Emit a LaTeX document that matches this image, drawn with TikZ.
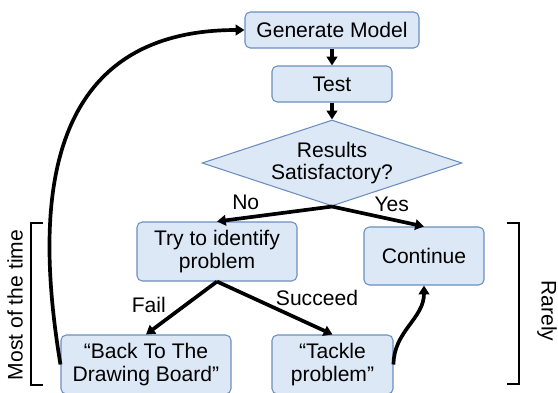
\documentclass[tikz,border=0pt]{standalone}
\usepackage{fontspec}
\setmainfont{Liberation Sans}
\usetikzlibrary{arrows.meta, shapes.geometric}
\definecolor{boxfill}{RGB}{220,232,245}
\definecolor{boxline}{RGB}{108,142,191}

\begin{document}
\begin{tikzpicture}[
		font=\fontsize{12}{13}\selectfont,
		roundvertex/.style={rectangle,rounded corners=3pt,draw=boxline,fill=boxfill,
			line width=0.6pt,align=center,inner sep=0pt},
		choicevertex/.style={diamond,aspect=3,draw=boxline,fill=boxfill,line width=0.6pt,
			align=center,inner sep=0pt,minimum width=5.2cm,minimum height=1.72cm},
		flow/.style={->,line width=2.1pt},
		bracketline/.style={line width=0.8pt},
		>={Triangle[length=5pt,width=6pt]}
		]
		\useasboundingbox (0,0) rectangle (11.16,-7.84);

		\node[roundvertex, minimum width=3.48cm, minimum height=0.72cm](Gen) at (6.64,-0.60){Generate Model};
		\node[roundvertex, minimum width=2.4cm, minimum height=0.72cm, below of = Gen, yshift = -0.08cm](Test){Test};
		\draw[flow] (Gen) -- (Test);
		\node[choicevertex, below of = Test, yshift = -0.58cm](Res){Results\\Satisfactory?};
		\draw[flow] (Test) -- (Res);
		\node[roundvertex, minimum width=3.2cm, minimum height=1.18cm, below of = Res,
		xshift = -2.3cm, yshift = -0.77cm](Try){Try to identify\\problem};
		\draw[flow] (Res.south) -- (Try.north) node [pos=0.75, above]{No};
		\node[roundvertex, minimum width=2.4cm, minimum height=1.16cm, below of = Res,
		xshift = 1.84cm, yshift = -0.86cm](Cont){Continue};
		\draw[flow] (Res.south) -- (Cont.north) node [pos=0.65, above]{Yes};
		\node[roundvertex, minimum width=3.4cm, minimum height=1.18cm, below of = Try,
		xshift = -1.42cm, yshift = -1.26cm](Back){“Back To The\\Drawing Board”};
		\draw[flow] (Try.south) -- (Back.north) node [midway, left, xshift = -0.16cm, yshift = 0.06cm]{Fail};
		\node[roundvertex, minimum width=2.42cm, minimum height=1.18cm, below of = Try,
		xshift = 2.31cm, yshift = -1.26cm](Tack){“Tackle\\problem”};
		\draw[flow] (Try.south) -- (Tack.north) node [midway, right, xshift = -0.13cm, yshift = 0.2cm]{Succeed};
		\draw[flow] (Tack.east) to[out=90, in=-90] (Cont.south);
		\draw[flow] (Back.west) .. controls +(-0.44,2.66) and +(-4.3,0) .. (Gen.west);

		% side brackets
		\draw[bracketline] (0.86,-4.46) -- (0.62,-4.46) -- (0.62,-7.70) -- (0.86,-7.70);
		\node[rotate=90](Most) at (0.30,-6.10){Most of the time};
		\draw[bracketline] (10.14,-4.46) -- (10.38,-4.46) -- (10.38,-7.68) -- (10.14,-7.68);
		\node[rotate=-90](Rare) at (10.94,-6.22){Rarely};
	\end{tikzpicture}
\end{document}
